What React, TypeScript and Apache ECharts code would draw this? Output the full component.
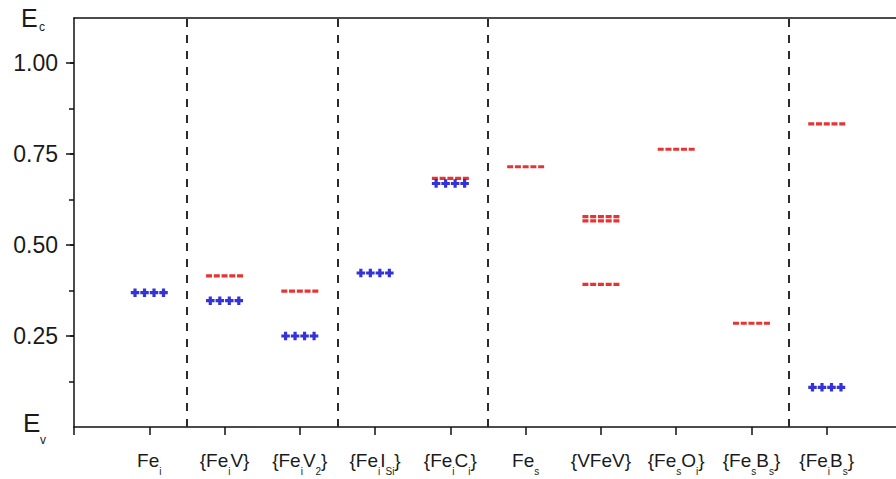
import React, { useEffect, useRef } from "react";
import * as echarts from "echarts";

// Category labels (rich-text markup: {s|...} = subscript)
const categories = [
  "Fe{s|i}",
  "{Fe{s|i}V}",
  "{Fe{s|i}V{s|2}}",
  "{Fe{s|i}I{s|Si}}",
  "{Fe{s|i}C{s|i}}",
  "Fe{s|s}",
  "{VFeV}",
  "{Fe{s|s}O{s|i}}",
  "{Fe{s|s}B{s|s}}",
  "{Fe{s|i}B{s|s}}",
];

// Red levels (category position 1..10, energy)
const redCat = [2, 3, 5, 6, 7, 7, 7, 8, 9, 10];
const redVal = [0.415, 0.373, 0.683, 0.715, 0.578, 0.566, 0.392, 0.763, 0.285, 0.833];

// Blue levels
const blueCat = [1, 2, 3, 4, 5, 10];
const blueVal = [0.369, 0.347, 0.25, 0.423, 0.669, 0.109];

// Dashed group separators
const separators = [1.5, 3.5, 5.5, 9.5];

// Axis ticks
const yMajor = [0.25, 0.5, 0.75, 1.0];
const yMinor = [0.125, 0.375, 0.625, 0.875];
const xTicks = [0, 1, 2, 3, 4, 5, 6, 7, 8, 9, 10];
const xLabelPos = [1, 2, 3, 4, 5, 6, 7, 8, 9, 10];

const Y_MAX = 1.1236;
const X_MAX = 10.92;

const FONT = "Liberation Sans, Arial, Helvetica, sans-serif";
const AXIS_COLOR = "#111";
const TEXT = "#1a1a1a";
const RED = "#e00000";
const BLUE = "#0000d0";

function dashRow(): string {
  const parts: string[] = [];
  for (let i = 0; i < 5; i++) {
    const x = i * 7.75;
    parts.push(`M${x},0h6v3h-6z`);
  }
  return "path://" + parts.join(" ");
}

function plusRow(): string {
  const parts: string[] = [];
  for (let i = 0; i < 4; i++) {
    const cx = 4.25 + i * 9.5;
    parts.push(`M${cx - 1.6},0h3.2v2.65h2.65v3.2h-2.65v2.65h-3.2v-2.65h-2.65v-3.2h2.65z`);
  }
  return "path://" + parts.join(" ");
}

export default function App() {
  const ref = useRef<HTMLDivElement>(null);

  useEffect(() => {
    if (!ref.current) return;
    const chart = echarts.init(ref.current, null, { renderer: "svg" });

    const redData = redCat.map((c, i) => [c, redVal[i]]);
    const blueData = blueCat.map((c, i) => [c, blueVal[i]]);

    const option: any = {
      animation: false,
      backgroundColor: "#ffffff",
      grid: { left: 74, top: 18, right: -2, bottom: 52 },
      xAxis: [
        {
          type: "value",
          min: 0,
          max: X_MAX,
          interval: 1,
          position: "bottom",
          axisLine: { show: true, onZero: false, lineStyle: { color: AXIS_COLOR, width: 1.5 } },
          axisTick: {
            show: true,
            inside: false,
            length: 8,
            customValues: xTicks,
            lineStyle: { color: AXIS_COLOR, width: 1.5 },
          },
          axisLabel: {
            show: true,
            customValues: xLabelPos,
            formatter: (v: number) => {
              const idx = Math.round(v) - 1;
              if (Math.abs(v - Math.round(v)) > 1e-6 || idx < 0 || idx >= categories.length) return "";
              return categories[idx];
            },
            fontSize: 19,
            fontFamily: FONT,
            color: TEXT,
            lineHeight: 32,
            margin: 17,
            rich: {
              s: {
                fontSize: 10,
                lineHeight: 10,
                fontFamily: FONT,
                color: TEXT,
                padding: [22, 0, 0, 0],
              },
            },
          },
          splitLine: { show: false },
        },
        {
          type: "value",
          min: 0,
          max: X_MAX,
          position: "top",
          axisLine: { show: true, onZero: false, lineStyle: { color: AXIS_COLOR, width: 1.5 } },
          axisTick: { show: false },
          axisLabel: { show: false },
          splitLine: { show: false },
        },
      ],
      yAxis: [
        {
          type: "value",
          min: 0,
          max: Y_MAX,
          position: "left",
          axisLine: { show: true, onZero: false, lineStyle: { color: AXIS_COLOR, width: 1.5 } },
          axisTick: {
            show: true,
            inside: false,
            length: 8,
            customValues: yMajor,
            lineStyle: { color: AXIS_COLOR, width: 1.5 },
          },
          axisLabel: {
            show: true,
            customValues: yMajor,
            formatter: (v: number) => v.toFixed(2),
            fontSize: 23,
            fontFamily: FONT,
            color: TEXT,
            margin: 16,
          },
          splitLine: { show: false },
        },
        {
          type: "value",
          min: 0,
          max: Y_MAX,
          position: "left",
          axisLine: { show: false },
          axisTick: {
            show: true,
            inside: false,
            length: 5,
            customValues: yMinor,
            lineStyle: { color: AXIS_COLOR, width: 1.5 },
          },
          axisLabel: { show: false },
          splitLine: { show: false },
        },
        {
          type: "value",
          min: 0,
          max: Y_MAX,
          position: "right",
          axisLine: { show: false },
          axisTick: {
            show: true,
            inside: true,
            length: 4,
            customValues: yMajor,
            lineStyle: { color: AXIS_COLOR, width: 1.5 },
          },
          axisLabel: { show: false },
          splitLine: { show: false },
        },
      ],
      graphic: [
        { type: "text", x: 21, y: 5, style: { text: "E", fontSize: 25, fontFamily: FONT, fill: TEXT, verticalAlign: "top", align: "left" } },
        { type: "text", x: 39, y: 21, style: { text: "c", fontSize: 12, fontFamily: FONT, fill: TEXT, verticalAlign: "top", align: "left" } },
        { type: "text", x: 23, y: 410, style: { text: "E", fontSize: 26, fontFamily: FONT, fill: TEXT, verticalAlign: "top", align: "left" } },
        { type: "text", x: 40, y: 434, style: { text: "v", fontSize: 12, fontFamily: FONT, fill: TEXT, verticalAlign: "top", align: "left" } },
      ],
      series: [
        {
          type: "scatter",
          name: "red",
          xAxisIndex: 0,
          yAxisIndex: 0,
          data: redData,
          symbol: dashRow(),
          symbolSize: [37, 3.2],
          itemStyle: { color: RED },
          z: 3,
          markLine: {
            silent: true,
            symbol: ["none", "none"],
            label: { show: false },
            lineStyle: { color: "#2a2a2a", width: 2, type: [8, 8] },
            data: separators.map((x) => ({ xAxis: x })),
          },
        },
        {
          type: "scatter",
          name: "blue",
          xAxisIndex: 0,
          yAxisIndex: 0,
          data: blueData,
          symbol: plusRow(),
          symbolSize: [37, 8.5],
          itemStyle: { color: BLUE },
          z: 4,
        },
      ],
    };

    chart.setOption(option);
    return () => {
      chart.dispose();
    };
  }, []);

  return (
    <div
      ref={ref}
      style={{ position: "absolute", left: 0, top: 0, width: 896, height: 479, background: "#fff" }}
    />
  );
}
